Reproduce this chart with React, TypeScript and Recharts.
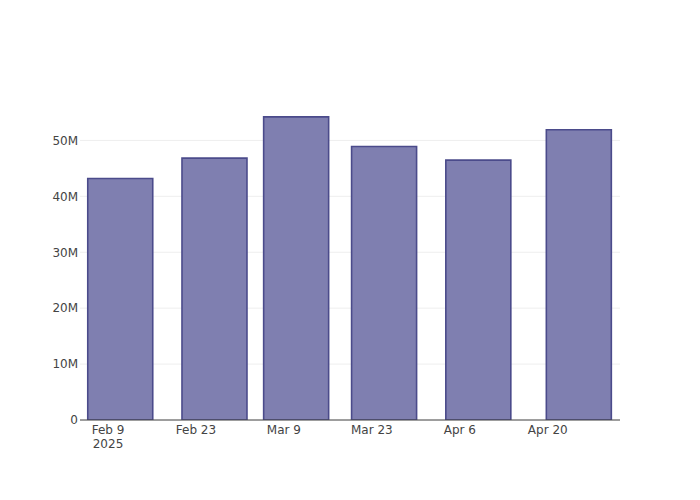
import { BarChart, Bar, XAxis, YAxis, CartesianGrid } from "recharts";

const DATES = ["2025-02-11", "2025-02-26", "2025-03-11", "2025-03-25", "2025-04-09", "2025-04-25"];
const VALUES = [43.19e6, 46.83e6, 54.22e6, 48.91e6, 46.48e6, 51.9e6];
const X_TICKS = ["2025-02-09", "2025-02-23", "2025-03-09", "2025-03-23", "2025-04-06", "2025-04-20"];
const Y_TICKS = [0, 10e6, 20e6, 30e6, 40e6, 50e6];

const DAY = 86400000;
const ts = (d: string) => Date.parse(d + "T00:00:00Z");
const MONTHS = ["Jan", "Feb", "Mar", "Apr", "May", "Jun", "Jul", "Aug", "Sep", "Oct", "Nov", "Dec"];

const data = DATES.map((d, i) => ({ t: ts(d), value: VALUES[i] }));
const xTicks = X_TICKS.map(ts);
const xDomain = [xTicks[0] - 4.46 * DAY, xTicks[0] + 81.5 * DAY];

const FONT = "'DejaVu Sans', sans-serif";

function DateTick(props: any) {
  const { x, y, payload, index } = props;
  const d = new Date(payload.value);
  const label = `${MONTHS[d.getUTCMonth()]} ${d.getUTCDate()}`;
  return (
    <text x={x} y={y} textAnchor="middle" fill="#444" fontSize={12} fontFamily={FONT}>
      <tspan x={x} dy="0.71em">{label}</tspan>
      {index === 0 && (
        <tspan x={x} dy="1.2em">{d.getUTCFullYear()}</tspan>
      )}
    </text>
  );
}

export default function App() {
  return (
    <div style={{ position: "absolute", left: 0, top: 0, width: 700, height: 500, background: "#fff" }}>
      <BarChart
        width={700}
        height={500}
        data={data}
        margin={{ top: 100, right: 80, bottom: 0, left: 0 }}
      >
        <CartesianGrid vertical={false} stroke="#eee" syncWithTicks />
        <XAxis
          dataKey="t"
          type="number"
          scale="linear"
          domain={xDomain}
          allowDataOverflow
          ticks={xTicks}
          interval={0}
          height={80}
          tickLine={false}
          tickSize={0}
          tickMargin={5}
          axisLine={{ stroke: "#444", strokeWidth: 1 }}
          tick={<DateTick />}
        />
        <YAxis
          type="number"
          domain={[0, 57.23e6]}
          allowDataOverflow
          ticks={Y_TICKS}
          width={80}
          axisLine={false}
          tickLine={false}
          tickSize={0}
          tickMargin={2}
          tick={{ fill: "#444", fontSize: 12, fontFamily: FONT }}
          tickFormatter={(v: number) => (v === 0 ? "0" : `${v / 1e6}M`)}
        />
        <Bar
          dataKey="value"
          barSize={65}
          fill="#7f7fb0"
          stroke="#4b4b8b"
          strokeWidth={1.6}
          isAnimationActive={false}
        />
      </BarChart>
    </div>
  );
}
